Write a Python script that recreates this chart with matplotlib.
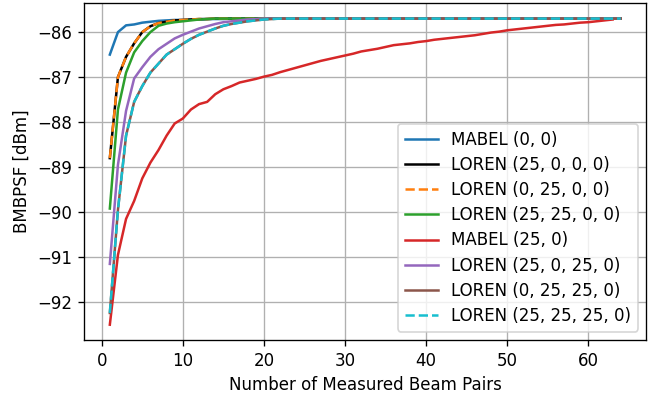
import numpy as np
import matplotlib
matplotlib.use('Agg')
import matplotlib.pyplot as plt

# ==============================
# DATA
# ==============================
mabel_00 = [-86.5, -86.0, -85.85, -85.83, -85.79, -85.77, -85.75, -85.74, -85.73, -85.73,
            -85.72, -85.72, -85.71, -85.71, -85.71] + [-85.70] * 49

loren_25_0_0_0 = [-88.8, -87.0, -86.55, -86.25, -86.0, -85.87, -85.8, -85.77, -85.74, -85.73,
                  -85.72, -85.71, -85.71] + [-85.70] * 51

loren_0_25_0_0 = list(loren_25_0_0_0)

loren_25_25_0_0 = [-89.92, -87.72, -86.9, -86.45, -86.2, -86.0, -85.86, -85.81, -85.78, -85.76,
                   -85.74, -85.72, -85.71] + [-85.70] * 51

mabel_25_0 = [-92.5, -90.95, -90.15, -89.75, -89.25, -88.9, -88.62, -88.3, -88.03, -87.92,
              -87.72, -87.6, -87.55, -87.38, -87.27, -87.2, -87.12, -87.08, -87.04, -86.99,
              -86.95, -86.89, -86.84, -86.79, -86.74, -86.69, -86.64, -86.6, -86.56, -86.52,
              -86.48, -86.43, -86.4, -86.37, -86.33, -86.29, -86.27, -86.25, -86.22, -86.2,
              -86.17, -86.15, -86.13, -86.11, -86.09, -86.07, -86.04, -86.01, -85.99, -85.96,
              -85.94, -85.92, -85.9, -85.88, -85.86, -85.84, -85.83, -85.81, -85.79, -85.78,
              -85.76, -85.74, -85.72]

loren_25_0_25_0 = [-91.15, -88.95, -87.75, -87.03, -86.78, -86.55, -86.38, -86.26, -86.14, -86.06,
                   -85.99, -85.92, -85.87, -85.82, -85.78, -85.76, -85.74, -85.72, -85.71] + [-85.70] * 45

loren_0_25_25_0 = [-92.24, -89.95, -88.3, -87.55, -87.2, -86.9, -86.7, -86.5, -86.38, -86.26,
                   -86.15, -86.06, -85.99, -85.92, -85.86, -85.82, -85.79, -85.76, -85.74, -85.72,
                   -85.71] + [-85.70] * 43

loren_25_25_25_0 = list(loren_0_25_25_0)

labels = ['MABEL (0, 0)', 'LOREN (25, 0, 0, 0)', 'LOREN (0, 25, 0, 0)', 'LOREN (25, 25, 0, 0)',
          'MABEL (25, 0)', 'LOREN (25, 0, 25, 0)', 'LOREN (0, 25, 25, 0)', 'LOREN (25, 25, 25, 0)']
series = [mabel_00, loren_25_0_0_0, loren_0_25_0_0, loren_25_25_0_0,
          mabel_25_0, loren_25_0_25_0, loren_0_25_25_0, loren_25_25_25_0]
colors = ['tab:blue', 'black', 'tab:orange', 'tab:green',
          'tab:red', 'tab:purple', 'tab:brown', 'tab:cyan']
styles = ['-', '-', '--', '-', '-', '-', '-', '--']

# ==============================
# PLOT
# ==============================
DPI = 120
fig = plt.figure(figsize=(658 / DPI, 397 / DPI), dpi=DPI)
ax = fig.add_axes([0.1281, 0.1436, 0.8541, 0.8481])

for y, lab, c, ls in zip(series, labels, colors, styles):
    x = np.arange(1, len(y) + 1)
    ax.plot(x, y, color=c, linestyle=ls, label=lab)

ax.set_xlabel('Number of Measured Beam Pairs')
ax.set_ylabel('BMBPSF [dBm]')
ax.grid()
ax.legend(loc='lower right', labelspacing=0.43)

fig.savefig('out.png', dpi=DPI)
